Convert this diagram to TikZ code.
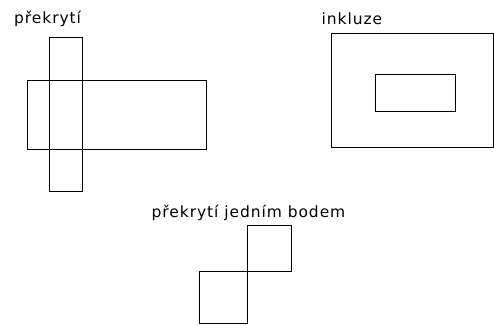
\documentclass[tikz,border=0pt]{standalone}
\usepackage{fontspec}
\setmainfont{DejaVu Sans}[LetterSpace=6]
\begin{document}
\begin{tikzpicture}[x=1pt,y=-1pt,
  box/.style={draw=black,line width=0.9pt},
  lbl/.style={anchor=base west,inner sep=0pt,font=\fontsize{15.5}{18}\selectfont}]
\useasboundingbox (0,0) rectangle (494,325);
% overlap
\node[lbl] (t1) at (14,23.5) {překrytí};
\draw[box] (49,37) rectangle (82,191.5);
\draw[box] (27.5,80) rectangle (206.5,149.3);
% inclusion
\node[lbl] (t2) at (321.5,24.5) {inkluze};
\draw[box] (331.7,33.5) rectangle (493,147.5);
\draw[box] (375,74.7) rectangle (455,111.7);
% single point
\node[lbl] (t3) at (151.5,217.5) {překrytí jedním bodem};
\draw[box] (247.3,225) rectangle (291.7,271.7);
\draw[box] (199.3,271.7) rectangle (247.3,323.3);
\end{tikzpicture}
\end{document}
